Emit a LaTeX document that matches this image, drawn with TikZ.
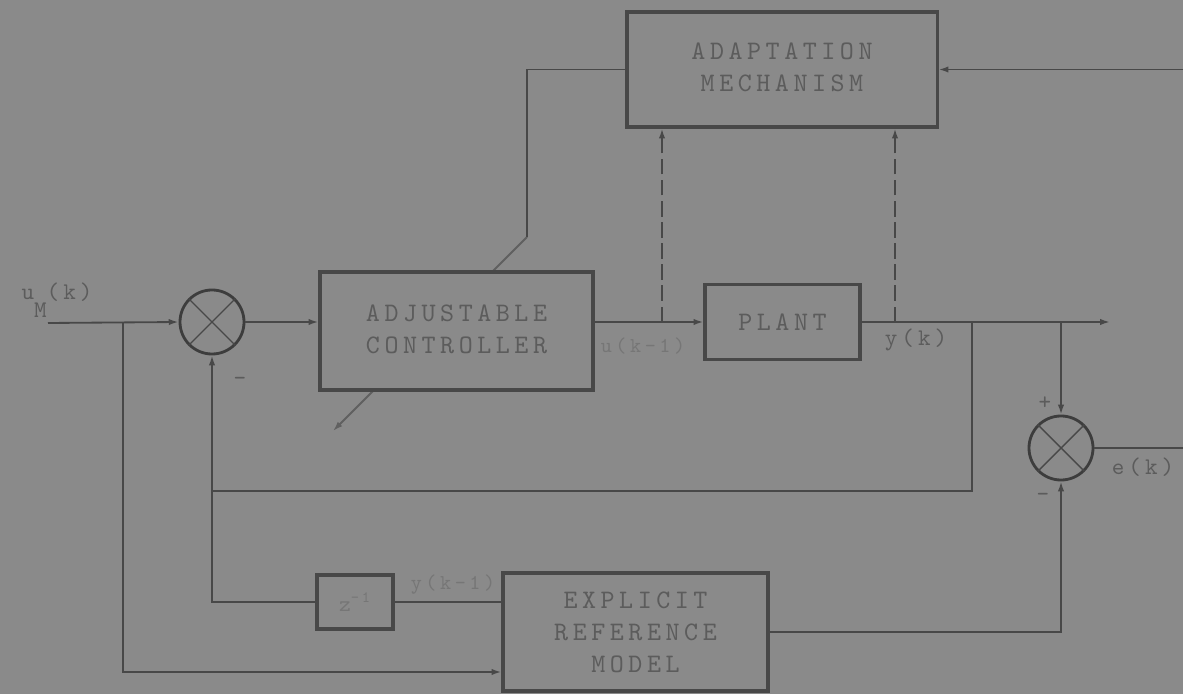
\documentclass[tikz,border=0pt]{standalone}
\usepackage{fontspec}
\newfontfamily\diagfont{lmmono10-regular.otf}[LetterSpace=17]
\definecolor{paperGrey}{HTML}{8A8A8A}
\definecolor{lineGrey}{HTML}{484848}
\definecolor{textGrey}{HTML}{5C5C5C}
\definecolor{fadeGrey}{HTML}{767676}
\definecolor{slashGrey}{HTML}{606060}
\usetikzlibrary{arrows.meta, positioning, calc}
\pgfdeclarelayer{background}
\pgfsetlayers{background,main}

\begin{document}
\begin{tikzpicture}[
    x=0.025cm, y=-0.025cm,
    box/.style={
      draw=lineGrey,
      fill=paperGrey,
      text=textGrey,
      line width=2.2pt,
      inner sep=0pt,
      align=center,
      font=\diagfont\fontsize{19}{22.8}\selectfont,
    },
    sum/.style={circle, draw=lineGrey!85!black, line width=2pt, minimum size=1.6cm, inner sep=0pt},
    wire/.style={lineGrey, line width=1.3pt},
    arr/.style={-{Latex[length=7pt, width=4.5pt]}, lineGrey, line width=1.3pt},
    lbl/.style={text=textGrey, inner sep=1pt, font=\diagfont\fontsize{17}{20}\selectfont},
    faint/.style={text=fadeGrey, inner sep=1pt, font=\diagfont\fontsize{15}{17}\selectfont},
  ]
    \useasboundingbox (0,0) rectangle (1183,694);
    \begin{pgfonlayer}{background}
      \fill[paperGrey] (0,0) rectangle (1183,694);
    \end{pgfonlayer}

    % Blocks
    \node[box, minimum width=7.75cm, minimum height=2.875cm] (adapt) at (782,69.5)
      {\raisebox{4.3pt}{\begin{tabular}{@{}c@{}}ADAPTATION\\MECHANISM\end{tabular}}};
    \node[box, minimum width=6.825cm, minimum height=2.95cm] (ctrl) at (456.5,331)
      {\raisebox{5.5pt}{\begin{tabular}{@{}c@{}}ADJUSTABLE\\CONTROLLER\end{tabular}}};
    \node[box, minimum width=3.875cm, minimum height=1.875cm] (plant) at (782.5,322) {PLANT};
    \node[box, minimum width=1.9cm, minimum height=1.35cm, text=fadeGrey, font=\diagfont\fontsize{16}{18}\selectfont] (zinv) at (355,602) {z\textsuperscript{-1}};
    \node[box, minimum width=6.625cm, minimum height=2.95cm] (erm) at (635.5,632) {EXPLICIT\\REFERENCE\\MODEL};

    % Summing junctions
    \node[sum] (s1) at (212,322) {};
    \node[sum] (s2) at (1061,448) {};
    \draw[lineGrey, line width=1pt] (s1.north east) -- (s1.south west) (s1.north west) -- (s1.south east);
    \draw[lineGrey, line width=1pt] (s2.north east) -- (s2.south west) (s2.north west) -- (s2.south east);

    % Labels
    \node[lbl] (uM) at (57,300) {u\raisebox{-0.75em}{M}(k)};
    \node[faint] (ulab) at (643,346) {u(k-1)};
    \node[lbl] (ylab) at (916,340) {y(k)};
    \node[lbl] (elab) at (1143,467) {e(k)};
    \node[faint] (yklab) at (453,585) {y(k-1)};
    \node[lbl] (m1) at (240,381) {-};
    \node[lbl] (p2) at (1045,403) {+};
    \node[lbl] (m2) at (1043,497) {-};

    % Points on the wires
    \coordinate (uin) at (48,323);
    \coordinate (ujn) at (123,323);
    \coordinate (yend) at (1110,322);
    \coordinate (yjn) at (972,322);
    \coordinate (fbR) at (972,491);
    \coordinate (fbL) at (s1 |- fbR);
    \coordinate (ermIn) at ($(erm.west)+(0,40)$);
    \coordinate (tapU) at (662,322);
    \coordinate (tapY) at (895,322);
    \coordinate (eturn) at (1200,69.5);
    \coordinate (adjTop) at (527,237);
    \coordinate (adjEnd) at (333,431);

    % Main loop
    \draw[arr] (uin) -- (s1.west);
    \draw[arr] (s1.east) -- (ctrl.west |- s1.east);
    \draw[arr] (ctrl.east |- plant.west) -- (plant.west);
    \draw[arr] (plant.east) -- (yend);
    \draw[arr] (yjn) -- (fbR) -- (fbL) -- (s1.south);
    \draw[wire] (fbL) |- (zinv.west);

    % Reference model branch
    \draw[arr] (ujn) |- (ermIn);
    \draw[wire] (zinv.east) -- (zinv.east -| erm.west);
    \draw[arr] (erm.east) -| (s2.south);
    \draw[arr] (s2 |- plant.east) -- (s2.north);

    % Adaptation
    \draw[arr] (s2.east) -| (eturn) -- (adapt.east);
    \draw[arr, dashed, dash pattern=on 11pt off 4pt] (tapU) -- (tapU |- adapt.south);
    \draw[arr, dashed, dash pattern=on 11pt off 4pt] (tapY) -- (tapY |- adapt.south);
    \draw[wire] (adapt.west) -| (adjTop);
    \begin{pgfonlayer}{background}
      \draw[arr, slashGrey] (adjTop) -- (adjEnd);
    \end{pgfonlayer}
  \end{tikzpicture}
\end{document}
